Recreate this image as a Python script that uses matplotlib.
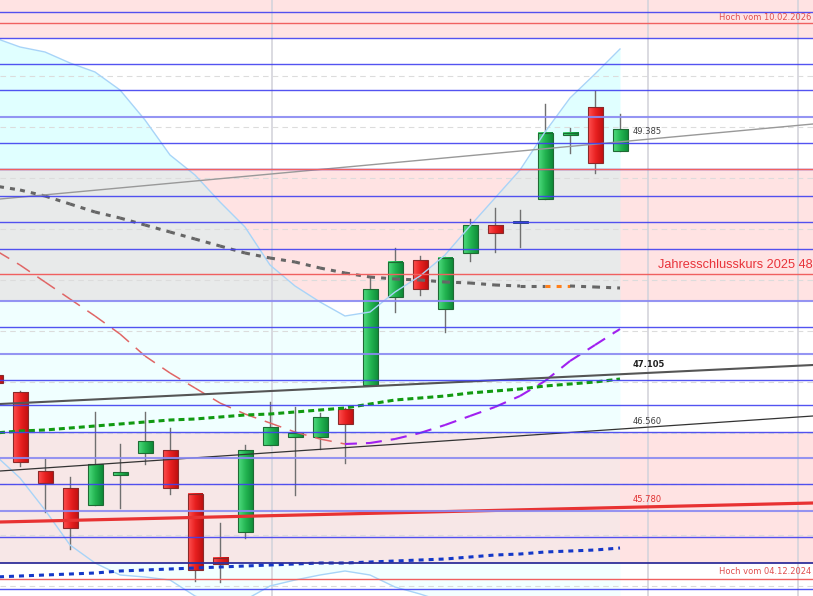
import matplotlib
matplotlib.use('Agg')
import matplotlib.pyplot as plt
from matplotlib.patches import Rectangle
from matplotlib.colors import LinearSegmentedColormap
import numpy as np

plt.rcParams['lines.scale_dashes'] = False

# Daily candles (index -1 is cut off at the left edge)
idx = list(range(-1, 25))
opens = [47.085, 46.915, 46.125, 45.955, 45.785, 46.085, 46.305, 46.335, 45.895, 45.255, 45.515, 46.385, 46.465,
         46.465, 46.745, 46.985, 47.865, 48.235, 47.745, 48.305, 48.585, 48.615, 48.845, 49.485, 49.765, 49.325]
highs = [47.135, 46.925, 46.245, 46.065, 46.715, 46.395, 46.715, 46.555, 45.895, 45.605, 46.385, 46.815, 46.765,
         46.705, 46.755, 48.055, 48.355, 48.275, 48.265, 48.645, 48.755, 48.735, 49.795, 49.555, 49.925, 49.695]
lows = [46.935, 46.175, 45.715, 45.345, 45.785, 45.755, 46.195, 45.895, 45.025, 45.015, 45.455, 46.385, 45.885,
        46.345, 46.205, 46.985, 47.715, 47.885, 47.515, 48.225, 48.315, 48.365, 48.845, 49.305, 49.105, 49.325]
closes = [47.005, 46.215, 46.005, 45.555, 46.195, 46.115, 46.425, 45.955, 45.135, 45.195, 46.335, 46.565, 46.505,
          46.665, 46.595, 47.945, 48.215, 47.945, 48.255, 48.585, 48.505, 48.615, 49.505, 49.505, 49.205, 49.545]

# Bollinger bands and moving averages
bb_upper = [50.455, 50.365, 50.315, 50.205, 50.115, 49.935, 49.635, 49.285, 49.085, 48.815, 48.565, 48.185, 47.975,
            47.815, 47.675, 47.715, 47.915, 48.075, 48.285, 48.575, 48.855, 49.135, 49.515, 49.855, 50.095, 50.345]
bb_lower = [46.285, 46.055, 45.735, 45.385, 45.205, 45.085, 45.065, 45.035, 44.875, 44.785, 44.835, 44.975, 45.035,
            45.085, 45.125, 45.085, 44.965, 44.895, 44.815, 44.775, 44.675, 44.615, 44.535, 44.595, 44.675, 44.745]
ma20 = [48.335, 48.185, 48.015, 47.845, 47.675, 47.495, 47.275, 47.105, 46.955, 46.805, 46.695, 46.605, 46.515,
        46.445, 46.395, 46.405, 46.445, 46.505, 46.585, 46.675, 46.765, 46.875, 47.025, 47.225, 47.385, 47.545]
ma50 = [48.975, 48.935, 48.875, 48.795, 48.715, 48.655, 48.585, 48.515, 48.445, 48.375, 48.305, 48.255, 48.215,
        48.155, 48.105, 48.065, 48.045, 48.035, 48.015, 48.005, 47.985, 47.975, 47.975, 47.975, 47.965, 47.955]
ma50_turn = [21]
ma_green = [46.505, 46.525, 46.535, 46.555, 46.575, 46.595, 46.615, 46.635, 46.645, 46.665, 46.685, 46.695, 46.715,
            46.735, 46.755, 46.795, 46.835, 46.855, 46.875, 46.905, 46.925, 46.945, 46.975, 46.995, 47.015, 47.045]
ma_blue = [45.065, 45.075, 45.085, 45.095, 45.105, 45.125, 45.135, 45.145, 45.155, 45.165, 45.175, 45.185, 45.195,
           45.205, 45.205, 45.215, 45.225, 45.235, 45.245, 45.265, 45.285, 45.295, 45.315, 45.325, 45.335, 45.355]

# horizontal levels
blue_levels = [50.718, 50.458, 50.195, 49.935, 49.668, 49.405, 49.145, 48.875, 48.615, 48.345, 47.825, 47.565,
               47.295, 47.035, 46.785, 46.515, 46.255, 45.995, 45.725, 45.465, 45.205, 44.945]
soft_levels = [49.668, 47.825, 47.295, 46.255, 45.725]
grid_levels = [50.075, 49.565, 49.055, 48.545, 48.035, 47.525, 47.015, 46.505, 45.995, 45.485, 44.975]
red_levels = [50.605, 49.145, 48.095, 45.045]
pink_zones = [(50.458, 51.0), (47.825, 49.145), (45.205, 46.515)]
band_zone_colors = [((49.145, 50.458), '#e0ffff'), ((47.825, 49.145), '#e8eaea'),
                    ((46.515, 47.825), '#f0ffff'), ((44.0, 45.205), '#f2ffff')]
vlines = [10.08, 25.12, 31.12]

# trend lines: (x0, y0, x1, y1)
trend_gray = (-0.8, 48.845, 31.72, 49.595)
trend_dark = (-0.8, 46.795, 31.72, 47.185)
trend_black = (-0.8, 46.125, 31.72, 46.675)
trend_red = (-0.8, 45.615, 31.72, 45.805)

xmin, xmax = -0.8, 31.72
ymin, ymax = 44.875, 50.835

fig = plt.figure(figsize=(8.13, 5.96), dpi=100)
ax = fig.add_axes([0, 0, 1, 1])
ax.set_axis_off()

# background zones
for lo, hi in pink_zones:
    ax.axhspan(lo, hi, color='#ffe3e3', zorder=0, lw=0)
ax.fill_between([xmin, idx[-1]], 45.205, 46.515, color='#f7e7e7', zorder=0.1, lw=0)

# bollinger band fill, tinted per zone
for (lo, hi), c in band_zone_colors:
    fb = ax.fill_between(idx, bb_lower, bb_upper, color=c, lw=0, zorder=0.2)
    fb.set_clip_path(Rectangle((xmin, lo), xmax - xmin, hi - lo, transform=ax.transData))

for g in grid_levels:
    ax.axhline(g, color='#dcdcdc', lw=0.8, ls=(0, (4, 3)), zorder=0.5)
for v in vlines:
    ax.axvline(v, color='#d4d4dc', lw=1.2, zorder=0.6)

ax.plot(idx, bb_upper, color='#a8d4f8', lw=1.0, zorder=4)
ax.plot(idx, bb_lower, color='#a8d4f8', lw=1.0, zorder=4)

# candles
w = 0.6
red_cmap = LinearSegmentedColormap.from_list('r', ['#ff5050', '#e82020', '#c01010'])
green_cmap = LinearSegmentedColormap.from_list('g', ['#50dc80', '#22b450', '#0e8a38'])
grad = np.linspace(0, 1, 32).reshape(1, -1)
for i, o, h, l, c in zip(idx, opens, highs, lows, closes):
    ax.plot([i, i], [l, h], color='#707070', lw=1.0, zorder=2)
    lo, hi = min(o, c), max(o, c)
    if abs(c - o) < 0.005:
        ax.add_patch(Rectangle((i - w / 2, o - 0.012), w, 0.024, facecolor='#1d4a9a',
                               edgecolor='#1d3a7a', lw=0.6, zorder=3))
        continue
    cmap = green_cmap if c > o else red_cmap
    edge = '#1f6a34' if c > o else '#8a2a2a'
    ax.imshow(grad, extent=(i - w / 2, i + w / 2, lo, hi), aspect='auto', cmap=cmap,
              interpolation='bilinear', zorder=3)
    ax.add_patch(Rectangle((i - w / 2, lo), w, hi - lo, facecolor='none', edgecolor=edge, lw=0.8, zorder=3.1))

# moving averages
for k in range(len(idx) - 1):
    col = '#a020f0' if ma20[k + 1] > ma20[k] else '#e06666'
    lw = 1.5 if ma20[k + 1] > ma20[k] else 1.1
    ax.plot(idx[k:k + 2], ma20[k:k + 2], color=col, lw=lw, dashes=(8.6, 6.5), zorder=4.2)
for k in range(len(idx) - 1):
    col = '#ff7f1a' if idx[k] in ma50_turn else '#666666'
    ax.plot(idx[k:k + 2], ma50[k:k + 2], color=col, lw=2.2, dashes=(3.6, 4.4), zorder=4.2)
ax.plot(idx, ma_green, color='#119a11', lw=2.2, dashes=(4.3, 2.9), zorder=4.2)
ax.plot(idx, ma_blue, color='#1438c8', lw=2.2, dashes=(3.6, 3.6), zorder=4.2)

# trend lines
for (x0, y0, x1, y1), col, lw in [(trend_gray, '#999999', 1.0), (trend_dark, '#555555', 1.5),
                                   (trend_black, '#333333', 0.9), (trend_red, '#e83232', 2.3)]:
    ax.plot([x0, x1], [y0, y1], color=col, lw=lw, zorder=4.5)

# horizontal levels
for b in blue_levels:
    if b in soft_levels:
        ax.axhline(b, color='#8a8af2', lw=1.5, zorder=5, alpha=0.9)
    elif b == 45.205:
        ax.axhline(b, color='#30309a', lw=1.3, zorder=5)
    else:
        ax.axhline(b, color='#4040f0', lw=1.0, zorder=5, alpha=0.9)
for r in red_levels:
    ax.axhline(r, color='#f06060', lw=1.0, zorder=5.1)

# labels
ax.text(0.998, 50.665, 'Hoch vom 10.02.2026', transform=ax.get_yaxis_transform(), ha='right', va='center',
        fontsize=6, color='#e05050', zorder=6)
ax.text(0.998, 45.115, 'Hoch vom 04.12.2024', transform=ax.get_yaxis_transform(), ha='right', va='center',
        fontsize=6, color='#e05050', zorder=6)
ax.text(0.999, 48.185, 'Jahresschlusskurs 2025 48', transform=ax.get_yaxis_transform(), ha='right', va='center',
        fontsize=9.2, family='Liberation Sans', color='#e8333a', zorder=6)
ax.text(24.52, 49.515, '49.385', ha='left', va='center', fontsize=6, color='#404040', zorder=6)
ax.text(24.52, 47.185, '47.105', ha='left', va='center', fontsize=6, fontweight='bold', color='#202020', zorder=6)
ax.text(24.52, 46.625, '46.560', ha='left', va='center', fontsize=6, color='#404040', zorder=6)
ax.text(24.52, 45.835, '45.780', ha='left', va='center', fontsize=6, color='#e03030', zorder=6)

ax.set_xlim(xmin, xmax)
ax.set_ylim(ymin, ymax)
fig.savefig('out.png', dpi=100)
